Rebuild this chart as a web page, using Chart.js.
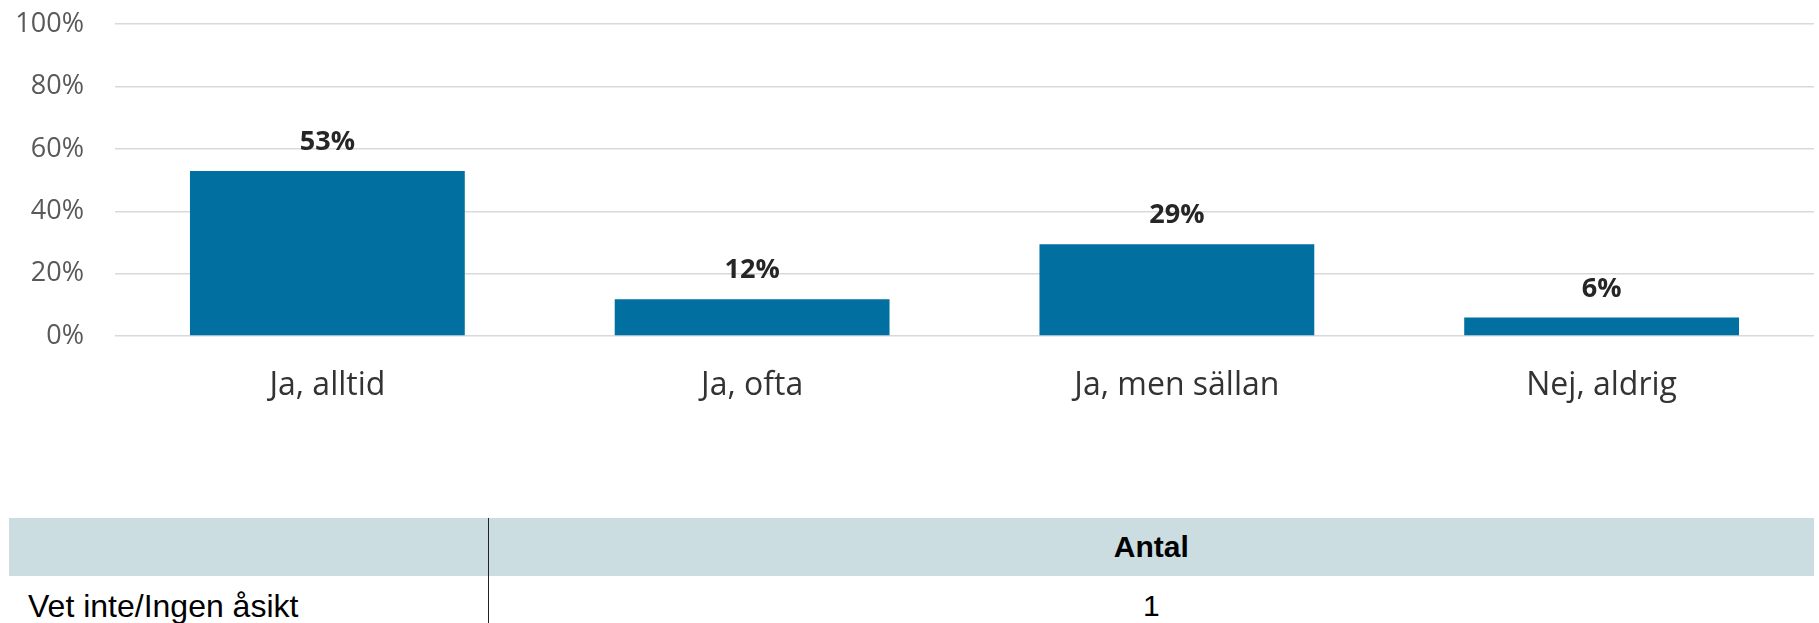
<!DOCTYPE html>
<html>
<head>
<meta charset="utf-8">
<script src="https://cdn.jsdelivr.net/npm/chart.js@4.4.0/dist/chart.umd.min.js"></script>
<style>
html, body { margin: 0; padding: 0; background: #fff; }
body { width: 1819px; height: 623px; overflow: hidden; position: relative; }
/* the y tick padding also pads the top of the chart, so shift the canvas up */
#chartBox { position: absolute; left: 0; top: -23px; }
table {
	position: absolute; left: 9px; top: 518px; width: 1805px;
	border-collapse: collapse; table-layout: fixed;
	font-family: "Liberation Sans", Arial, sans-serif; font-size: 30px; color: #000;
}
th, td { padding: 0; }
thead th { background: #cbdde1; height: 58px; font-weight: bold; text-align: center; }
tbody td { height: 60px; vertical-align: middle; }
tbody td.first { font-size: 32px; }
.first { border-right: 1px solid #222; text-align: left; padding-left: 19px; }
.num { text-align: center; }
</style>
</head>
<body>
<div id="chartBox"><canvas id="mycanvas" width="1819" height="463"></canvas></div>

<table>
	<colgroup><col style="width:479px"><col></colgroup>
	<thead><tr><th class="first"></th><th id="colHead"></th></tr></thead>
	<tbody><tr><td class="first" id="rowHead"></td><td class="num" id="rowVal"></td></tr></tbody>
</table>

<script>
// svarsalternativ och andel (%)
var answers = ["Ja, alltid", "Ja, ofta", "Ja, men sällan", "Nej, aldrig"];
var shares = [52.9, 11.8, 29.4, 5.9];
var yTicks = [0, 20, 40, 60, 80, 100];

// tabellen under diagrammet
var tableHeader = "Antal";
var tableRow = "Vet inte/Ingen åsikt";
var tableValue = 1;

document.getElementById("colHead").textContent = tableHeader;
document.getElementById("rowHead").textContent = tableRow;
document.getElementById("rowVal").textContent = tableValue;

// procent ovanför staplarna
var valueLabels = {
	id: 'valueLabels',
	afterDatasetsDraw: function(chart) {
		var ctx = chart.ctx;
		var meta = chart.getDatasetMeta(0);
		ctx.save();
		ctx.font = 'bold 27px "Open Sans"';
		ctx.fillStyle = '#262626';
		ctx.textAlign = 'center';
		ctx.textBaseline = 'alphabetic';
		meta.data.forEach(function(bar, i) {
			ctx.fillText(Math.round(shares[i]) + '%', bar.x, bar.y - 21);
		});
		ctx.restore();
	}
};

var chartdata = {
	labels: answers,
	datasets: [
		{
			label: 'Andel',
			backgroundColor: "#0170a0",
			borderWidth: 0,
			categoryPercentage: 1,
			barPercentage: 0.647,
			data: shares
		}
	]
};

var ctx = document.getElementById("mycanvas");

var barGraph = new Chart(ctx, {
	type: 'bar',
	data: chartdata,
	plugins: [valueLabels],
	options: {
		responsive: false,
		animation: false,
		layout: { padding: { top: 0, right: 5, left: 0, bottom: 0 } },
		plugins: {
			legend: { display: false },
			tooltip: { enabled: false }
		},
		scales: {
			x: {
				grid: { display: false, drawTicks: false },
				border: { display: false },
				ticks: {
					font: { family: '"Open Sans"', size: 32 },
					color: '#333333',
					padding: 31
				},
				afterFit: function(scale) { scale.height = 104; }
			},
			y: {
				min: yTicks[0],
				max: yTicks[yTicks.length - 1],
				afterBuildTicks: function(scale) {
					scale.ticks = yTicks.map(function(v) { return { value: v }; });
				},
				grid: { color: '#d9d9d9', lineWidth: 1.5, drawTicks: false },
				border: { display: false },
				ticks: {
					font: { family: '"Open Sans"', size: 27 },
					color: '#595959',
					padding: 31,
					callback: function(v) { return v + '%'; }
				},
				afterFit: function(scale) { scale.width = 115; }
			}
		}
	}
});
</script>
</body>
</html>
